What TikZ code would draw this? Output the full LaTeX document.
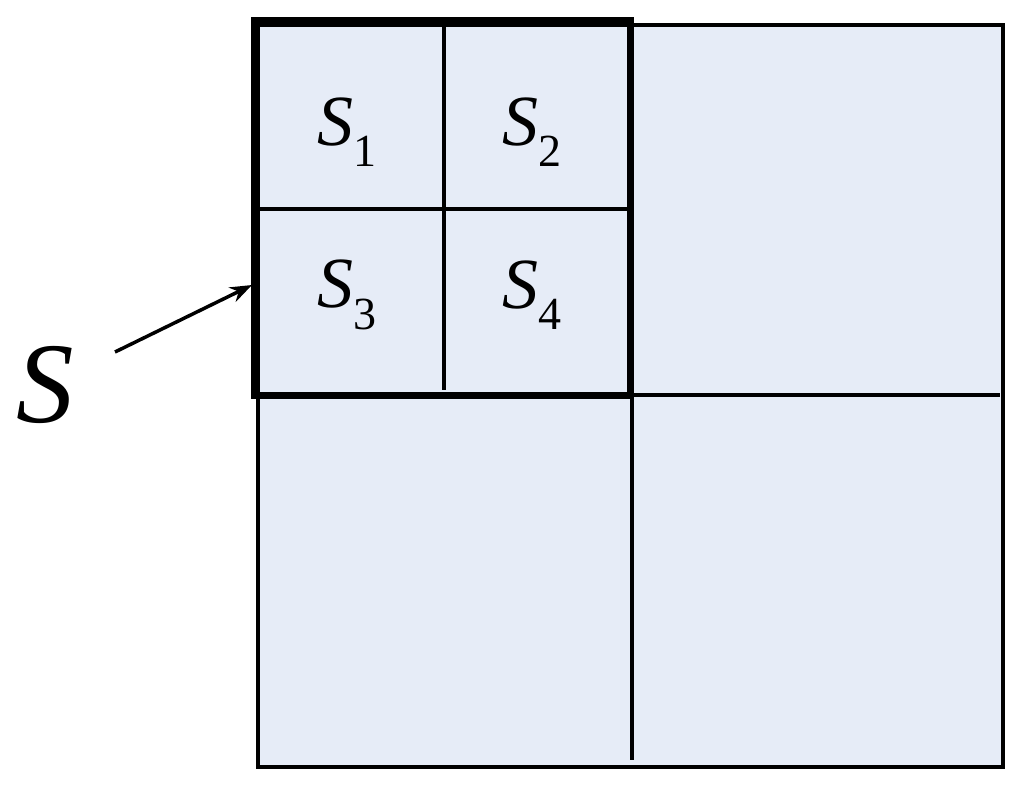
\documentclass[tikz,border=0pt]{standalone}
\usepackage{fontspec}
\setmainfont{Liberation Serif}
\usetikzlibrary{arrows.meta}
\newcommand{\subS}[1]{\textit{S}\raisebox{-0.3em}{\fontsize{46}{50}\selectfont #1}}
\begin{document}
\begin{tikzpicture}[x=1pt,y=-1pt,
  thin/.style={line width=3.5pt},
  thick/.style={line width=7pt},
  lab/.style={font=\fontsize{72}{80}\selectfont}]
\useasboundingbox (0,0) rectangle (1024,790);
\definecolor{fillb}{HTML}{E6ECF7}
\fill[fillb] (258,25) rectangle (1003,767);
\draw[thin] (258,25) rectangle (1003,767);
\draw[thin] (630,395) -- (1000,395);
\draw[thin] (632,395) -- (632,760);
\draw[thin] (444,22) -- (444,390);
\draw[thin] (256,209) -- (628,209);
\draw[thick] (254,20) rectangle (630,395);
\node[lab] (s1) at (347,132) {\subS{1}};
\node[lab] (s2) at (532,132) {\subS{2}};
\node[lab] (s3) at (347,295) {\subS{3}};
\node[lab] (s4) at (532,295) {\subS{4}};
\node[font=\fontsize{115}{120}\selectfont\itshape] (s) at (45,385) {S};
\coordinate (a0) at (115,352);
\coordinate (a1) at (252,285);
\draw[line width=3.5pt,-{Stealth[length=22pt,width=16pt]}] (a0) -- (a1);
\end{tikzpicture}
\end{document}
